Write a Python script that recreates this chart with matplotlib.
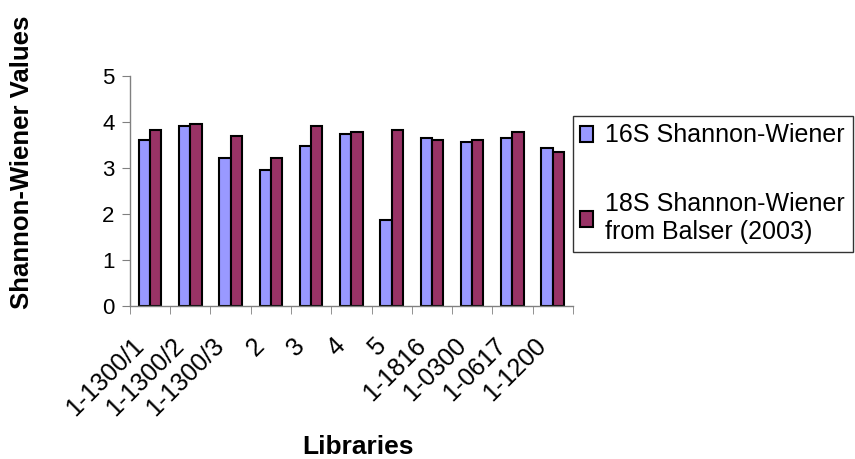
import matplotlib
matplotlib.use("Agg")
import matplotlib.pyplot as plt
import matplotlib.transforms as mtransforms
import numpy as np

plt.rcParams['font.family'] = ['Liberation Sans', 'DejaVu Sans']

# Shannon-Wiener diversity per clone library
libraries = ['1-1300/1', '1-1300/2', '1-1300/3', '2', '3', '4', '5',
             '1-1816', '1-0300', '1-0617', '1-1200']
sw_16s = [3.60, 3.91, 3.21, 2.95, 3.47, 3.73, 1.87, 3.65, 3.56, 3.65, 3.43]
sw_18s = [3.82, 3.95, 3.69, 3.21, 3.91, 3.78, 3.82, 3.60, 3.60, 3.78, 3.34]
series_names = ['16S Shannon-Wiener', '18S Shannon-Wiener\nfrom Balser (2003)']

fig = plt.figure(figsize=(8.55, 4.59), dpi=100)
ax = fig.add_axes([0.152, 0.3333, 0.518, 0.502])

x = np.arange(len(libraries))
w = 0.28
ax.bar(x - w / 2, sw_16s, w, color='#9999FF', edgecolor='black', linewidth=1.5,
       label=series_names[0])
ax.bar(x + w / 2, sw_18s, w, color='#993366', edgecolor='black', linewidth=1.5,
       label=series_names[1])

ax.set_xlim(-0.5, len(libraries) - 0.5)
ax.set_ylim(0, 5)
ax.set_yticks(range(6))

for side in ('top', 'right'):
    ax.spines[side].set_visible(False)
for side in ('left', 'bottom'):
    ax.spines[side].set_color('#808080')
    ax.spines[side].set_linewidth(1)

ax.tick_params(axis='y', labelsize=16, length=6, color='#808080', pad=5)

# labels at category centres, tick marks between categories
ax.set_xticks(x)
ax.set_xticklabels(libraries, rotation=45, ha='right', va='center',
                   rotation_mode='anchor', fontsize=18)
ax.set_xticks(np.arange(-0.5, len(libraries)), minor=True)
ax.tick_params(axis='x', which='major', length=0, pad=26)
ax.tick_params(axis='x', which='minor', length=6, color='#808080')
shift = mtransforms.ScaledTranslation(-10 / 100, 0, fig.dpi_scale_trans)
for lbl in ax.get_xticklabels():
    lbl.set_transform(lbl.get_transform() + shift)

fig.text(0.419, 0.026, 'Libraries', fontsize=19, fontweight='bold',
         ha='center', va='center')
fig.text(0.026, 0.646, 'Shannon-Wiener Values', rotation=90, fontsize=18.5,
         fontweight='bold', ha='center', va='center')

leg = ax.legend(loc='upper left', bbox_to_anchor=(1.0, 0.825), borderaxespad=0,
                fontsize=18, frameon=True, fancybox=False, edgecolor='black',
                handlelength=0.5, handleheight=0.6, handletextpad=0.5,
                labelspacing=1.8, borderpad=0.3)
leg.get_frame().set_linewidth(1)

fig.savefig('out.png', dpi=100)
